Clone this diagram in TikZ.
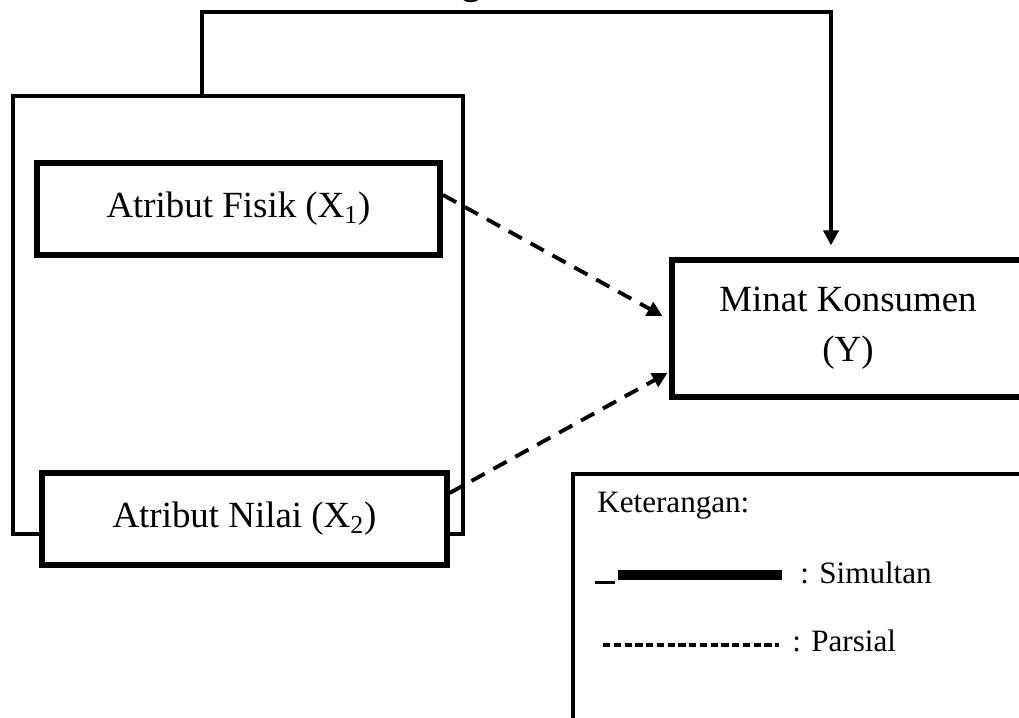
\documentclass[tikz,border=0pt]{standalone}
\usepackage{fontspec}
\setmainfont{Liberation Serif}
\usetikzlibrary{arrows.meta}

\tikzset{
    simultan/.style={line width=2.3pt, -{Triangle[length=0.3cm, width=0.3cm]}, shorten >=0.24cm},
    parsial/.style={line width=2.2pt, dash pattern=on 0.3cm off 0.2cm, -{Triangle[length=0.3cm, width=0.3cm]}}
}

\begin{document}
\begin{tikzpicture}
    \useasboundingbox (0, 0) rectangle (20.38, 14.36);
    \clip (0, 0) rectangle (20.38, 14.36);

    % heading, cut off at the top
    \node[anchor=base, inner sep=0] (judul) at (9.43, 14.47) {\fontsize{21}{25}\selectfont\bfseries g};

    \begin{scope}[every node/.style={draw=black, rectangle, font=\fontsize{21}{28.4}\selectfont}]
        \node[line width=2pt, minimum width=9cm, minimum height=8.76cm] (frame) at (4.76, 8.06) {};
        \node[line width=3.4pt, fill=white, minimum width=8.06cm, minimum height=1.84cm] (X_1) at (4.77, 10.18) {Atribut Fisik (X\textsubscript{1})};
        \node[line width=3pt, fill=white, minimum width=8.1cm, minimum height=1.84cm] (X_2) at (4.89, 3.98) {Atribut Nilai (X\textsubscript{2})};
        \node[line width=2.9pt, align=center, minimum width=7.04cm, minimum height=2.74cm] (Y) at (16.96, 7.79) {Minat Konsumen\\(Y)};
        \node[line width=2.3pt, minimum width=9.2cm, minimum height=5.5cm] (ket) at (16.06, 2.13) {};
    \end{scope}

    \begin{scope}[every node/.style={inner sep=0, anchor=base west, font=\fontsize{17.7}{21}\selectfont}]
        \node (ket_judul) at (11.94, 4.1) {Keterangan:};
        \node (ket_simultan) at (16.0, 2.68) {: Simultan};
        \node (ket_parsial) at (15.84, 1.32) {: Parsial};
    \end{scope}

    % legend samples
    \draw[line width=0.06cm] (11.9, 2.7) -- (12.3, 2.7);
    \draw[line width=0.2cm] (12.36, 2.86) -- (15.64, 2.86);
    \draw[line width=0.065cm, dash pattern=on 0.145cm off 0.07cm] (12.06, 1.46) -- (15.575, 1.46);

    \coordinate (atas) at (16.62, 14.12);
    \draw[simultan] ([xshift=-0.72cm]frame.north) |- (atas) -- (atas |- Y.north);

    \draw[parsial] ([yshift=0.28cm]X_1.east) -- ([xshift=-0.14cm, yshift=0.25cm]Y.west);
    \draw[parsial] ([yshift=0.52cm]X_2.east) -- ([xshift=-0.04cm, yshift=-0.89cm]Y.west);
\end{tikzpicture}
\end{document}
